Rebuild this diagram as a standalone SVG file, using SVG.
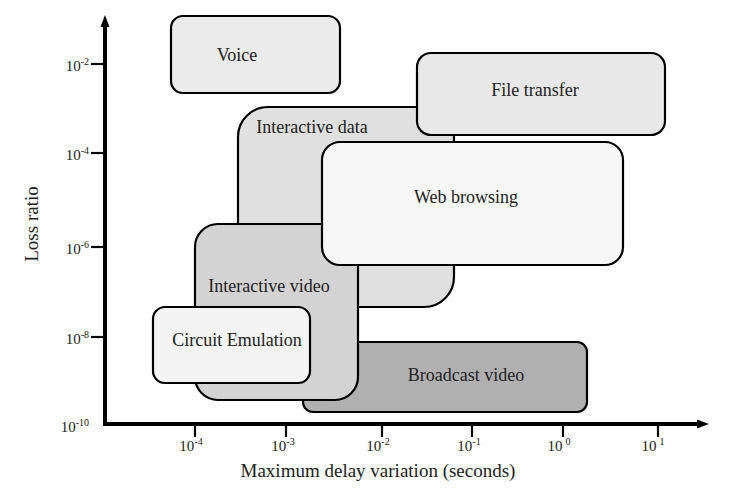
<svg xmlns="http://www.w3.org/2000/svg" width="735" height="491" viewBox="0 0 735 491">
<style>
.box{stroke:#000;stroke-width:2.2}
.lbl{font-family:"Liberation Serif","Times New Roman",serif;font-size:18px;fill:#222;text-anchor:middle}
.tick{font-family:"Liberation Serif","Times New Roman",serif;font-size:15px;fill:#222}
.sup{font-size:10px}
.axis{stroke:#000;stroke-width:4;fill:none}
.tk{stroke:#000;stroke-width:2.2}
.ax{font-family:"Liberation Serif","Times New Roman",serif;font-size:19px;fill:#222;text-anchor:middle}
</style>
<rect width="735" height="491" fill="#fff"/>

<g id="interactive-data">
<path class="box" stroke-width="1.8" fill="#e0e0e0" d="M238,137 A30,30 0 0 1 268,107 L444,107 A10,10 0 0 1 454,117 L454,277 A30,30 0 0 1 424,307 L248,307 A10,10 0 0 1 238,297 Z"/>
<text class="lbl" x="312" y="133">Interactive data</text>
</g>
<g id="broadcast-video">
<rect class="box" x="303" y="342" width="284" height="70" rx="10" fill="#b0b0b0"/>
<text class="lbl" x="466" y="381">Broadcast video</text>
</g>
<g id="interactive-video">
<rect class="box" x="195" y="224" width="163" height="176" rx="23" fill="#d3d3d3"/>
<text class="lbl" x="269" y="292">Interactive video</text>
</g>
<g id="circuit-emulation">
<rect class="box" x="153" y="307" width="157" height="76" rx="12" fill="#f4f4f4"/>
<text class="lbl" x="237" y="346">Circuit Emulation</text>
</g>
<g id="voice">
<rect class="box" x="171" y="16" width="169" height="77" rx="12" fill="#ebebeb"/>
<text class="lbl" x="237" y="61">Voice</text>
</g>
<g id="file-transfer">
<rect class="box" x="417" y="53" width="248" height="82" rx="14" fill="#e8e8e8"/>
<text class="lbl" x="535" y="96">File transfer</text>
</g>
<g id="web-browsing">
<rect class="box" stroke-width="2.6" x="322" y="142" width="301" height="123" rx="18" fill="#f7f7f7"/>
<text class="lbl" x="466" y="203">Web browsing</text>
</g>

<g id="axes">
<line class="axis" x1="105" y1="24" x2="105" y2="426"/>
<polygon points="105,15 100.5,27 109.5,27" fill="#000"/>
<line class="axis" x1="103" y1="424" x2="698" y2="424"/>
<polygon points="709,424 697,419.5 697,428.5" fill="#000"/>
<line class="tk" x1="91" y1="64" x2="105" y2="64"/>
<line class="tk" x1="91" y1="153" x2="105" y2="153"/>
<line class="tk" x1="91" y1="247" x2="105" y2="247"/>
<line class="tk" x1="91" y1="337" x2="105" y2="337"/>
<line class="tk" x1="195" y1="424" x2="195" y2="437"/>
<line class="tk" x1="286" y1="424" x2="286" y2="437"/>
<line class="tk" x1="382" y1="424" x2="382" y2="437"/>
<line class="tk" x1="472" y1="424" x2="472" y2="437"/>
<line class="tk" x1="563" y1="424" x2="563" y2="437"/>
<line class="tk" x1="658" y1="424" x2="658" y2="437"/>
<text class="tick" x="89" y="71" text-anchor="end">10<tspan class="sup" dy="-6">-2</tspan></text>
<text class="tick" x="89" y="160" text-anchor="end">10<tspan class="sup" dy="-6">-4</tspan></text>
<text class="tick" x="89" y="254" text-anchor="end">10<tspan class="sup" dy="-6">-6</tspan></text>
<text class="tick" x="89" y="344" text-anchor="end">10<tspan class="sup" dy="-6">-8</tspan></text>
<text class="tick" x="89" y="432" text-anchor="end">10<tspan class="sup" dy="-6">-10</tspan></text>
<text class="tick" x="191" y="451" text-anchor="middle">10<tspan class="sup" dy="-6">-4</tspan></text>
<text class="tick" x="283" y="451" text-anchor="middle">10<tspan class="sup" dy="-6">-3</tspan></text>
<text class="tick" x="378" y="451" text-anchor="middle">10<tspan class="sup" dy="-6">-2</tspan></text>
<text class="tick" x="469" y="451" text-anchor="middle">10<tspan class="sup" dy="-6">-1</tspan></text>
<text class="tick" x="559" y="451" text-anchor="middle">10<tspan class="sup" dx="3" dy="-6">0</tspan></text>
<text class="tick" x="653" y="451" text-anchor="middle">10<tspan class="sup" dx="3" dy="-6">1</tspan></text>
<text class="ax" x="378" y="477">Maximum delay variation (seconds)</text>
<text class="ax" transform="translate(38,224) rotate(-90)">Loss ratio</text>
</g>
</svg>
